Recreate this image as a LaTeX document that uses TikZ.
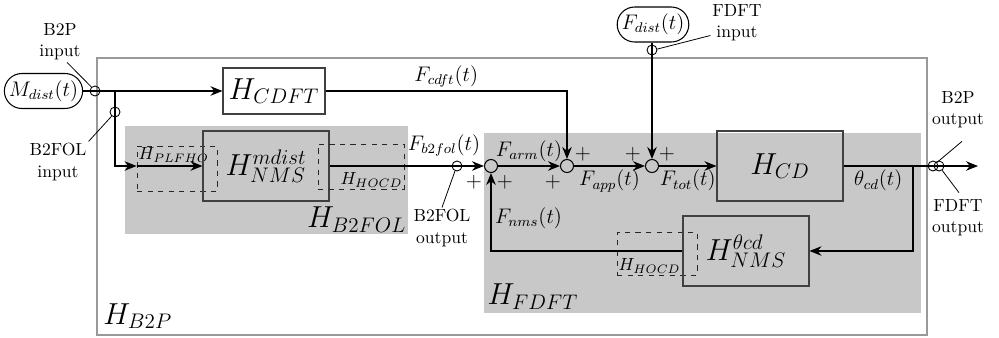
\documentclass[tikz,border=0pt]{standalone}
\usetikzlibrary{arrows.meta, positioning, calc}
\definecolor{grpfill}{HTML}{C8C8C8}
\definecolor{sysline}{HTML}{999999}
\tikzset{
  blk/.style   = {draw=black!75, line width=0.6pt, minimum width=2.52cm, minimum height=1.4cm,
                  font=\LARGE, inner sep=2pt},
  dbox/.style  = {draw=black!85, dashed, line width=0.5pt},
  dlab/.style  = {inner sep=1pt},
  grp/.style   = {fill=grpfill, inner sep=0pt},
  glab/.style  = {font=\LARGE},
  sysbox/.style= {draw=sysline, line width=1.2pt, inner sep=0pt},
  src/.style   = {draw, line width=0.6pt, rounded corners=3.5mm, minimum height=0.7cm,
                  font=\large, inner sep=2.5pt},
  port/.style  = {draw, circle, line width=0.5pt, minimum size=0.2cm, inner sep=0pt},
  sumpt/.style = {draw, circle, line width=0.6pt, minimum size=0.26cm, inner sep=0pt},
  note/.style  = {align=center, inner sep=1pt},
  lab/.style   = {font=\large, inner sep=2pt},
  pm/.style    = {font=\large, inner sep=0pt},
  sig/.style   = {-{Stealth[length=2.4mm, width=1.9mm]}, line width=0.6pt},
  wire/.style  = {line width=0.6pt},
  lead/.style  = {line width=0.45pt},
}

\begin{document}
\begin{tikzpicture}
\useasboundingbox (0,0) rectangle (19.98,6.74);

% =========================================================================
% H_B2P
% =========================================================================
\node[sysbox, minimum width=16.6cm, minimum height=5.54cm] (b2p) at (10.24,2.81) {};
\node[glab, anchor=south west, inner sep=4pt] at (b2p.south west) {$H_{B2P}$};

\node[grp, minimum width=5.66cm, minimum height=2.16cm] (gb2fol) at (5.33,3.14) {};
\node[grp, minimum width=8.74cm, minimum height=3.6cm] (gfdft) at (14.05,2.28) {};
\node[glab, anchor=south east, inner sep=1pt] at (gb2fol.south east) {$H_{B2FOL}$};
\node[glab, anchor=south west, inner sep=2pt] at (gfdft.south west) {$H_{FDFT}$};

% =========================================================================
% Inputs
% =========================================================================
\node[src] (mdist) at (0.87,4.92) {$M_{dist}(t)$};
\node[port] (cb2pin) at (1.90,4.92) {};
\node[note] (tb2pin) at (1.20,5.90) {B2P\\input};
\draw[lead] (cb2pin.132) -- ($(tb2pin.south)+(0.14,0)$);

\coordinate (br) at (2.30,4.92);
\node[port] (cb2folin) at (2.30,4.50) {};
\node[note] (tb2folin) at (1.16,3.50) {B2FOL\\input};
\draw[lead] (cb2folin.231) -- (tb2folin.north east);

\node[blk, minimum width=2.04cm, minimum height=0.92cm] (hcdft) at (5.48,4.92) {$H_{CDFT}$};
\draw[sig] (mdist.east) -- (hcdft.west);

% =========================================================================
% B2FOL
% =========================================================================
\node[dbox, minimum width=1.6cm, minimum height=0.9cm] (plfho) at (3.54,3.37) {};
\node[dlab, anchor=north west] at (plfho.north west) {$H_{PLFHO}$};
\node[blk] (nmsm) at (5.32,3.42) {$H_{NMS}^{mdist}$};
\node[dbox, minimum width=1.72cm, minimum height=0.9cm] (hocda) at (7.22,3.41) {};
\node[dlab, anchor=south east] at (hocda.south east) {$H_{HOCD}$};

\draw[sig] (br) |- (plfho.west |- nmsm);
\draw[sig] (plfho.west |- nmsm) -- (nmsm.west);

\node[port] (cb2folout) at (9.14,3.42) {};
\node[lab, anchor=south] at ($(cb2folout.north)+(-0.26,0)$) {$F_{b2fol}(t)$};
\node[note] (tb2folout) at (8.84,2.18) {B2FOL\\output};
\draw[lead] (cb2folout.248) -- (tb2folout.north);

% =========================================================================
% FDFT
% =========================================================================
\node[sumpt] (sum1) at (9.82,3.42) {};
\node[sumpt] (sum2) at (11.34,3.42) {};
\node[sumpt] (sum3) at (13.04,3.42) {};
\node[blk] (hcd) at (15.60,3.42) {$H_{CD}$};
\node[dbox, minimum width=1.6cm, minimum height=0.86cm] (hocdb) at (13.14,1.67) {};
\node[dlab, anchor=south west] at (hocdb.south west) {$H_{HOCD}$};
\node[blk] (nmst) at (14.92,1.72) {$H_{NMS}^{\theta cd}$};
\coordinate (crn) at (18.26,3.42);

\node[pm] at ($(sum1)+(-0.34,-0.32)$) {$+$};
\node[pm] at ($(sum1)+(0.28,-0.32)$) {$+$};
\node[pm] at ($(sum2)+(0.32,0.24)$) {$+$};
\node[pm] at ($(sum2)+(-0.28,-0.32)$) {$+$};
\node[pm] at ($(sum3)+(-0.38,0.24)$) {$+$};
\node[pm] at ($(sum3)+(0.30,0.24)$) {$+$};

\draw[sig] (nmsm.east) -- (sum1.west);
\draw[sig] (sum1.east) -- node[lab, above] {$F_{arm}(t)$} (sum2.west);
\draw[sig] (sum2.east) -- node[lab, below] {$F_{app}(t)$} (sum3.west);
\draw[sig] (sum3.east) -- node[lab, below] {$F_{tot}(t)$} (hcd.west);
\draw[wire] (hcd.east) -- node[lab, below] {$\theta_{cd}(t)$} (crn);
\draw[sig] (crn) |- (nmst.east);
\draw[sig] (nmst.west) -| node[lab, pos=0.71, right] {$F_{nms}(t)$} (sum1.south);
\draw[sig] (hcdft.east) -| node[lab, pos=0.25, above] {$F_{cdft}(t)$} (sum2.north);

% disturbance force
\node[src] (fdist) at (13.06,6.25) {$F_{dist}(t)$};
\node[port] (cfdftin) at (13.04,5.74) {};
\node[note] (tfdftin) at (14.74,6.28) {FDFT\\input};
\draw[lead] (cfdftin.10) -- ($(tfdftin.west)+(0,-0.25)$);
\draw[sig] (fdist.south -| sum3) -- (sum3.north);

% =========================================================================
% Outputs
% =========================================================================
\coordinate (outend) at (19.56,3.42);
\draw[sig] (crn) -- (outend);
\node[port] (cb2pout) at (18.66,3.42) {};
\node[port] (cfdftout) at (18.78,3.42) {};
\node[note] (tb2pout) at (19.16,4.54) {B2P\\output};
\node[note] (tfdftout) at (19.16,2.38) {FDFT\\output};
\draw[lead] (cb2pout.42) -- ($(tb2pout.south)+(0.08,-0.22)$);
\draw[lead] (cfdftout.-54) -- ($(tfdftout.north)+(0.02,0.1)$);

\end{tikzpicture}
\end{document}
